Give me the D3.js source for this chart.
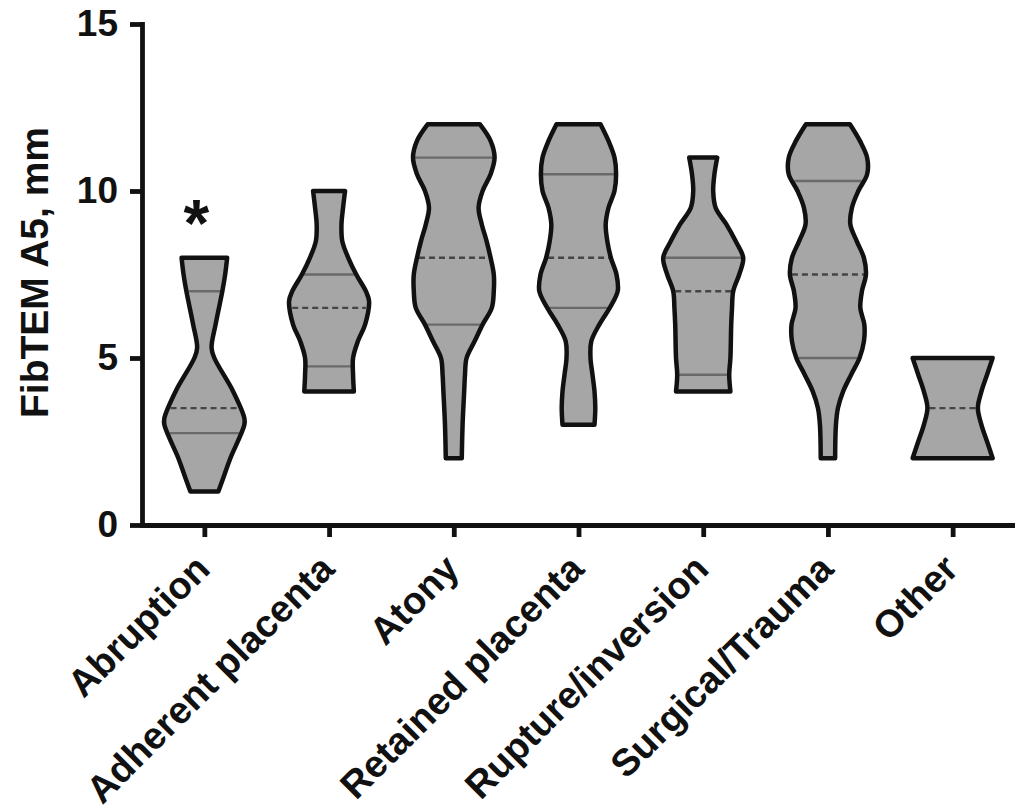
<!DOCTYPE html>
<html>
<head>
<meta charset="utf-8">
<script src="https://cdn.jsdelivr.net/npm/d3@7"></script>
<style>
body { margin: 0; background: #fff; }
text { font-family: "Liberation Sans", Arial, sans-serif; font-weight: bold; fill: #111; }
</style>
</head>
<body>
<script>
// categories on the x axis
var categories = ["Abruption", "Adherent placenta", "Atony", "Retained placenta",
                  "Rupture/inversion", "Surgical/Trauma", "Other"];

// violin outlines: FibTEM level (mm) and relative density (1 = widest)
var abruptionLevels  = [1, 1.5, 2, 3, 3.2, 4, 5, 5.3, 6, 7, 7.5, 8];
var abruptionDensity = [0.35, 0.5, 0.65, 1.0, 1.0, 0.72, 0.25, 0.18, 0.28, 0.45, 0.52, 0.57];

var adherentLevels  = [4, 4.5, 5, 5.5, 6, 6.7, 7, 7.5, 8, 8.5, 9, 9.5, 10];
var adherentDensity = [0.62, 0.6, 0.6, 0.72, 0.9, 1.0, 0.92, 0.68, 0.48, 0.33, 0.31, 0.35, 0.4];

var atonyLevels  = [2, 3, 4, 4.5, 5, 5.5, 6, 6.5, 7, 7.5, 8, 8.5, 9, 9.5, 10, 10.5, 11, 11.5, 12];
var atonyDensity = [0.2, 0.22, 0.26, 0.28, 0.32, 0.52, 0.72, 0.95, 1.0, 1.0, 0.92, 0.82, 0.7, 0.62, 0.72, 0.92, 1.02, 0.92, 0.65];

var retainedLevels  = [3, 3.5, 4, 4.5, 5, 5.5, 6, 6.5, 7, 7.5, 8, 8.5, 9, 9.5, 10, 10.5, 11, 11.5, 12];
var retainedDensity = [0.4, 0.42, 0.4, 0.35, 0.3, 0.32, 0.52, 0.78, 0.98, 0.95, 0.81, 0.72, 0.68, 0.75, 0.9, 0.94, 0.9, 0.75, 0.55];

var ruptureLevels  = [4, 4.5, 5, 6, 6.5, 7, 7.5, 8, 8.5, 9, 9.5, 10, 10.5, 11];
var ruptureDensity = [0.68, 0.65, 0.68, 0.7, 0.72, 0.75, 0.9, 1.0, 0.81, 0.58, 0.31, 0.25, 0.28, 0.35];

var surgicalLevels  = [2, 3, 3.5, 4, 4.5, 5, 5.5, 6, 6.5, 7, 7.5, 8, 8.5, 9, 9.5, 10, 10.5, 11, 11.5, 12];
var surgicalDensity = [0.18, 0.2, 0.25, 0.38, 0.58, 0.79, 0.9, 0.91, 0.81, 0.85, 0.95, 0.9, 0.72, 0.56, 0.6, 0.76, 0.98, 0.98, 0.8, 0.55];

var otherLevels  = [2, 2.5, 3, 3.5, 4, 4.5, 5];
var otherDensity = [1.0, 0.86, 0.72, 0.63, 0.72, 0.86, 1.0];

// [lower quartile, median, upper quartile]
var quartiles = [[2.75, 3.5, 7], [4.75, 6.5, 7.5], [6, 8, 11], [6.5, 8, 10.5],
                 [4.5, 7, 8], [5, 7.5, 10.3], [2, 3.5, 5]];

var yTicks = [0, 5, 10, 15];
var yTitle = "FibTEM A5, mm";

// significance marker
var starCategory = "Abruption";
var starValue = 9.5;
var starLabel = "*";

var allLevels = [abruptionLevels, adherentLevels, atonyLevels, retainedLevels,
                 ruptureLevels, surgicalLevels, otherLevels];
var allDensity = [abruptionDensity, adherentDensity, atonyDensity, retainedDensity,
                  ruptureDensity, surgicalDensity, otherDensity];

var violins = categories.map(function(c, i){
	return {
		name: c,
		points: allLevels[i].map(function(v, j){ return {v: v, d: allDensity[i][j]}; }),
		densityAt: d3.scaleLinear().domain(allLevels[i]).range(allDensity[i]).clamp(true),
		q: quartiles[i]
	};
});

var W = 1015, H = 810;
var mLeft = 142, mRight = 1015, mTop = 24, mBottom = 525;

var svg = d3.select("body").append("svg")
	.attr("width", W)
	.attr("height", H);

var x = d3.scalePoint().domain(categories).range([mLeft, mRight]).padding(0.5);
var y = d3.scaleLinear().domain([0, 15]).range([mBottom, mTop]);
var w = d3.scaleLinear().domain([0, 1]).range([0, 40]);

// violins
var area = d3.area()
	.curve(d3.curveCatmullRom.alpha(0.5))
	.y(function(d){ return y(d.v); })
	.x0(function(p){ return -w(p.d); })
	.x1(function(p){ return w(p.d); });

var g = svg.selectAll("g.violin")
	.data(violins)
	.enter()
	.append("g")
	.attr("class", "violin")
	.attr("transform", function(d){ return "translate(" + x(d.name) + ",0)"; });

g.append("path")
	.attr("d", function(d){ return area(d.points); })
	.attr("fill", "#a6a6a6")
	.attr("stroke", "none");

// quartile lines (solid) and median (dashed)
g.selectAll("line.q")
	.data(function(d){
		return d.q.map(function(v, k){ return {v: v, k: k, hw: w(d.densityAt(v))}; });
	})
	.enter()
	.append("line")
	.attr("class", "q")
	.attr("x1", function(d){ return -d.hw + 2; })
	.attr("x2", function(d){ return d.hw - 2; })
	.attr("y1", function(d){ return y(d.v); })
	.attr("y2", function(d){ return y(d.v); })
	.attr("stroke", function(d){ return d.k == 1 ? "#454545" : "#6a6a6a"; })
	.attr("stroke-width", 2.4)
	.attr("stroke-dasharray", function(d){ return d.k == 1 ? "6,4" : null; });

g.append("path")
	.attr("d", function(d){ return area(d.points); })
	.attr("fill", "none")
	.attr("stroke", "#111")
	.attr("stroke-width", 4.5)
	.attr("stroke-linejoin", "round");

// axes
var yAxis = svg.append("g")
	.attr("transform", "translate(" + mLeft + ",0)")
	.call(d3.axisLeft(y).tickValues(yTicks).tickSize(12).tickSizeOuter(0).tickPadding(12));

var xAxis = svg.append("g")
	.attr("transform", "translate(0," + mBottom + ")")
	.call(d3.axisBottom(x).tickSize(12).tickSizeOuter(0).tickFormat(""));

[yAxis, xAxis].forEach(function(a){
	a.select(".domain").attr("stroke", "#111").attr("stroke-width", 4.8).attr("stroke-linecap", "square");
	a.selectAll(".tick line").attr("stroke", "#111").attr("stroke-width", 4.8);
});

yAxis.selectAll(".tick text")
	.style("font-size", "37px")
	.attr("fill", "#111");

// rotated category labels
svg.selectAll("text.xlab")
	.data(categories)
	.enter()
	.append("text")
	.attr("class", "xlab")
	.attr("transform", function(d){ return "translate(" + (x(d) + 7.5) + ",571) rotate(-45)"; })
	.attr("text-anchor", "end")
	.style("font-size", "38px")
	.text(function(d){ return d; });

// y axis title
svg.append("text")
	.attr("transform", "rotate(-90)")
	.attr("x", -(mTop + mBottom) / 2 + 2)
	.attr("y", 48)
	.attr("text-anchor", "middle")
	.style("font-size", "39px")
	.text(yTitle);

// significance star
svg.append("text")
	.attr("x", x(starCategory) - 8)
	.attr("y", y(starValue) + 38)
	.attr("text-anchor", "middle")
	.style("font-size", "66px")
	.text(starLabel);
</script>
</body>
</html>
